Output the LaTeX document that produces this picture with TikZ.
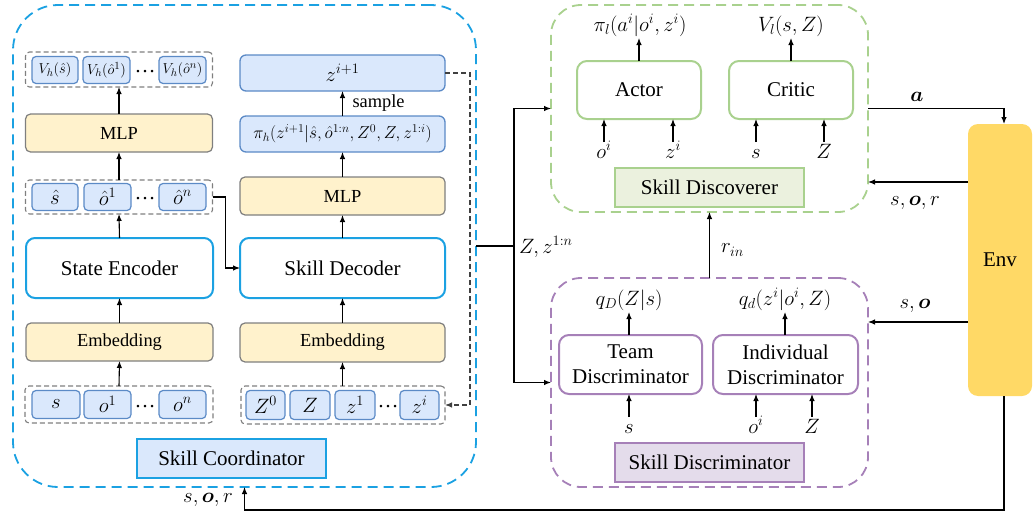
\documentclass[tikz,border=0pt]{standalone}
\usepackage{amsmath}
\usepackage{bm}
\usepackage{fontspec}
\setmainfont{Liberation Serif}[Ligatures=TeX]
\usetikzlibrary{arrows.meta,calc}

\definecolor{cyanline}{HTML}{1BA1E2}
\definecolor{bluefill}{HTML}{DAE8FC}
\definecolor{blueline}{HTML}{5B8AC6}
\definecolor{mlpfill}{HTML}{FFF2CC}
\definecolor{grayline}{HTML}{7F7F7F}
\definecolor{dashgray}{HTML}{404040}
\definecolor{greenline}{HTML}{A9D18E}
\definecolor{greenfill}{HTML}{EBF1DE}
\definecolor{purpleline}{HTML}{A680B8}
\definecolor{purplefill}{HTML}{E4DCEB}
\definecolor{envfill}{HTML}{FFD966}

\begin{document}
\begin{tikzpicture}[x=1pt,y=-1pt,
  every node/.style={inner sep=0pt, outer sep=0pt},
  bigtxt/.style={font=\fontsize{21}{25}\selectfont},
  smalltxt/.style={font=\fontsize{18.4}{22}\selectfont},
  tinytxt/.style={font=\fontsize{15}{18}\selectfont},
  arr/.style={-{Latex[length=7pt,width=5.5pt]}, line width=1.1pt},
  plainline/.style={line width=1.1pt},
  dasharr/.style={-{Latex[length=7pt,width=5.5pt]}, line width=1.1pt, draw=dashgray, dash pattern=on 5pt off 3pt},
  outerdash/.style={line width=1.8pt, dash pattern=on 10pt off 6pt},
  grp/.style={draw=grayline, dash pattern=on 5pt off 3pt, rounded corners=4pt, line width=1.1pt},
  smallbox/.style={draw=blueline, fill=bluefill, rounded corners=4pt, line width=1.2pt, bigtxt},
  pibox/.style={draw=blueline, fill=bluefill, rounded corners=6pt, line width=1.3pt, minimum width=205pt, minimum height=36pt},
  mlpbox/.style={draw=grayline, fill=mlpfill, rounded corners=5pt, line width=1.2pt, minimum height=38pt, smalltxt},
  encbox/.style={draw=cyanline, fill=white, rounded corners=9pt, line width=2pt, minimum height=60pt, bigtxt},
  titlebox/.style={line width=2pt, minimum width=189pt, minimum height=39pt, bigtxt},
  netbox/.style={rounded corners=10pt, line width=2pt, minimum height=58pt, bigtxt, align=center},
  inlbl/.style={bigtxt, anchor=north, text height=16.5pt, text depth=3pt},
  outlbl/.style={bigtxt, anchor=south, text height=15pt, text depth=7pt}
]
\useasboundingbox (0,0) rectangle (1034,514);

% ---------------- Skill Coordinator ----------------
\node[outerdash, draw=cyanline, rounded corners=45pt, minimum width=463pt, minimum height=482pt] (coord) at (244.5,246) {};

% left column: state encoder branch
\node[grp, minimum width=187pt, minimum height=35pt] (vgrp) at (119,69.5) {};
\node[smallbox, tinytxt, minimum width=46pt, minimum height=27pt] (v1) at (55,70) {$V_h(\hat{s})$};
\node[smallbox, tinytxt, minimum width=47pt, minimum height=27pt] (v2) at (106.5,70) {$V_h({\hat{o}}^{1})$};
\node[bigtxt] (vdots) at (145,72) {\ldots};
\node[smallbox, tinytxt, minimum width=47pt, minimum height=27pt] (v3) at (182.5,70) {$V_h({\hat{o}}^{n})$};

\node[mlpbox, minimum width=187pt] (mlpL) at (119,133) {MLP};

\node[grp, minimum width=187pt, minimum height=34pt] (hgrp) at (119,197) {};
\node[smallbox, minimum width=46pt, minimum height=27pt] (h1) at (55,197) {$\hat{s}$};
\node[smallbox, minimum width=47pt, minimum height=27pt] (h2) at (107.5,197) {${\hat{o}}^{1}$};
\node[bigtxt] (hdots) at (145,199) {\ldots};
\node[smallbox, minimum width=47pt, minimum height=27pt] (h3) at (182.5,197) {${\hat{o}}^{n}$};

\node[encbox, minimum width=187pt] (enc) at (119.5,268) {State Encoder};
\node[mlpbox, minimum width=187pt] (embL) at (119.5,342) {Embedding};

\node[grp, minimum width=188pt, minimum height=37pt] (igrpL) at (119,404.5) {};
\node[smallbox, minimum width=48pt, minimum height=28pt] (i1) at (56,404.5) {$s$};
\node[smallbox, minimum width=47pt, minimum height=28pt] (i2) at (107.5,404.5) {$o^1$};
\node[bigtxt] (idots) at (145,407) {\ldots};
\node[smallbox, minimum width=47pt, minimum height=28pt] (i3) at (182.5,404.5) {$o^n$};

% right column: skill decoder branch
\node[pibox, bigtxt] (zip1) at (342.5,73) {$z^{i+1}$};
\node[pibox, font=\fontsize{18}{21}\selectfont] (pih) at (342.5,134) {$\pi_h(z^{i+1}|\hat{s},{\hat{o}}^{1:n},Z^0,Z,z^{1:i})$};
\node[mlpbox, minimum width=205pt] (mlpR) at (342.5,196) {MLP};
\node[encbox, minimum width=205pt] (dec) at (342.5,268) {Skill Decoder};
\node[mlpbox, minimum width=205pt, minimum height=39pt] (embR) at (342.5,342.5) {Embedding};

\node[grp, minimum width=204pt, minimum height=38pt] (igrpR) at (343,405) {};
\node[smallbox, minimum width=39pt, minimum height=29pt] (r1) at (265.5,405) {$Z^0$};
\node[smallbox, minimum width=40pt, minimum height=29pt] (r2) at (310,405) {$Z$};
\node[smallbox, minimum width=40pt, minimum height=29pt] (r3) at (355,405) {$z^1$};
\node[bigtxt] (rdots) at (388,407) {\ldots};
\node[smallbox, minimum width=39pt, minimum height=29pt] (r4) at (419.5,405) {$z^i$};

\node[titlebox, draw=cyanline, fill=bluefill] (sc) at (231.5,458.5) {Skill Coordinator};

% flow inside the coordinator
\draw[arr] (mlpL.north) -- (vgrp.south);
\draw[arr] (hgrp.north) -- (mlpL.south);
\draw[arr] (enc.north) -- (hgrp.south);
\draw[arr] (embL.north) -- (enc.south);
\draw[arr] (igrpL.north) -- (embL.south);

\draw[arr] (igrpR.north -| embR.south) -- (embR.south);
\draw[arr] (embR.north) -- (dec.south);
\draw[arr] (dec.north) -- (mlpR.south);
\draw[arr] (mlpR.north) -- (pih.south);
\draw[arr] (pih.north) -- node[right=10pt, smalltxt] {sample} (zip1.south);

\draw[arr] (hgrp.east) -- ++(13,0) |- (dec.west);
\draw[dasharr] (zip1.east) -- ++(25,0) |- (igrpR.east);

% ---------------- Skill Discoverer ----------------
\node[outerdash, draw=greenline, rounded corners=30pt, minimum width=317pt, minimum height=207pt] (disc) at (709.5,108.5) {};
\node[netbox, draw=greenline, minimum width=124pt] (actor) at (639,90) {Actor};
\node[netbox, draw=greenline, minimum width=124pt] (critic) at (791,90) {Critic};
\node[outlbl] (piL) at (640,38) {$\pi_l(a^i|o^i,z^i)$};
\node[outlbl] (vL) at (791,38) {$V_l(s,Z)$};
\draw[arr] (actor.north) -- (actor.north |- piL.south);
\draw[arr] (critic.north) -- (critic.north |- vL.south);

\node[inlbl] (aoi) at (604,142) {$o^i$};
\node[inlbl] (azi) at (673,142) {$z^i$};
\node[inlbl] (cs) at (756,142) {$s$};
\node[inlbl] (cZ) at (824,142) {$Z$};
\draw[arr] (aoi.north) -- (aoi.north |- actor.south);
\draw[arr] (azi.north) -- (azi.north |- actor.south);
\draw[arr] (cs.north) -- (cs.north |- critic.south);
\draw[arr] (cZ.north) -- (cZ.north |- critic.south);

\node[titlebox, draw=greenline, fill=greenfill] (sd) at (709.5,187.5) {Skill Discoverer};

% ---------------- Skill Discriminator ----------------
\node[outerdash, draw=purpleline, rounded corners=30pt, minimum width=317pt, minimum height=209pt] (dsc) at (709.5,382.5) {};
\node[netbox, draw=purpleline, minimum width=143pt, minimum height=59pt] (team) at (630.5,364.5) {Team\\Discriminator};
\node[netbox, draw=purpleline, minimum width=145pt, minimum height=59pt] (indiv) at (785.5,364.5) {Individual\\Discriminator};
\node[outlbl] (qD) at (629,312) {$q_D(Z|s)$};
\node[outlbl] (qd) at (785,312) {$q_d(z^i|o^i,Z)$};
\draw[arr] (team.north -| qD.south) -- (qD.south);
\draw[arr] (indiv.north -| qd.south) -- (qd.south);

\node[inlbl] (ts) at (629,417) {$s$};
\node[inlbl] (ioi) at (756,417) {$o^i$};
\node[inlbl] (iZ) at (812,417) {$Z$};
\draw[arr] (ts.north) -- (ts.north |- team.south);
\draw[arr] (ioi.north) -- (ioi.north |- indiv.south);
\draw[arr] (iZ.north) -- (iZ.north |- indiv.south);

\node[titlebox, draw=purpleline, fill=purplefill] (sdisc) at (709.5,462.5) {Skill Discriminator};

% ---------------- Environment ----------------
\node[fill=envfill, rounded corners=10pt, minimum width=64pt, minimum height=272pt, bigtxt] (env) at (1000,260) {Env};

% ---------------- connections between modules ----------------
\draw[plainline] (coord.east) -- ++(38,0) coordinate (split);
\draw[arr] (split) |- (disc.west);
\draw[arr] (split) |- (dsc.west);
\node[bigtxt, anchor=base west] (zlbl) at (519,253) {$Z,z^{1:n}$};

\draw[arr] (dsc.north) -- (disc.south);
\node[bigtxt, anchor=west] (rin) at (721,250) {$r_{in}$};

\draw[arr] (disc.east) -| ([xshift=4pt]env.north);
\node[bigtxt] (albl) at (917,97) {$\bm{a}$};

\draw[arr] (env.west |- 0,182) -- (disc.east |- 0,182);
\node[bigtxt] (sorlbl) at (915,203) {$s,\bm{o},r$};

\draw[arr] (env.west |- 0,322) -- (dsc.east |- 0,322);
\node[bigtxt] (solbl) at (915,306) {$s,\bm{o}$};

\draw[arr] ([xshift=4pt]env.south) |- (coord.south |- 0,510) -- (coord.south);
\node[bigtxt] (sorlbl2) at (208,500) {$s,\bm{o},r$};
\end{tikzpicture}
\end{document}
